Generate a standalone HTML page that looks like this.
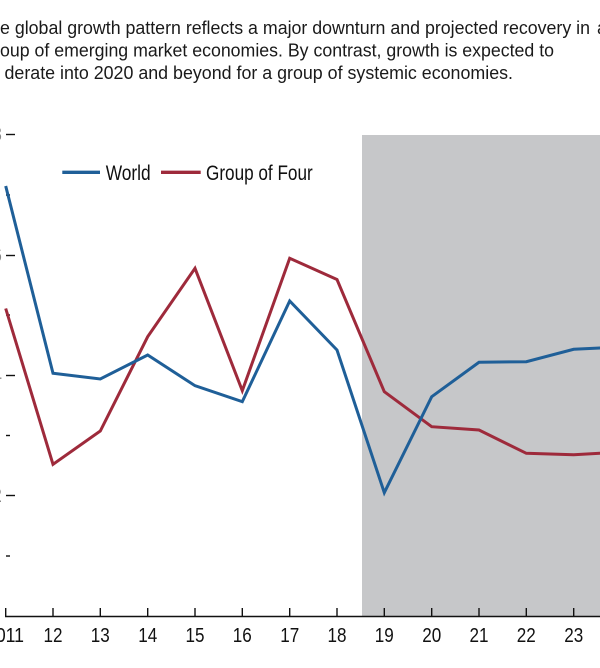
<!DOCTYPE html>
<html>
<head>
<meta charset="utf-8">
<style>
  html, body { margin: 0; padding: 0; background: #ffffff; }
  body { width: 600px; height: 668px; overflow: hidden; }
  svg { display: block; }
  text { font-family: "Liberation Sans", Arial, sans-serif; }
</style>
</head>
<body>
<svg width="600" height="668" viewBox="0 0 600 668" xmlns="http://www.w3.org/2000/svg">
  <rect x="0" y="0" width="600" height="668" fill="#ffffff"/>

  <!-- Title text (left-clipped in reference) -->
  <g fill="#1a1a1a" font-size="18">
    <text x="0" y="34" textLength="590" lengthAdjust="spacingAndGlyphs">e global growth pattern reflects a major downturn and projected recovery in</text>
    <text x="597" y="34">a</text>
    <text x="0" y="56.5" textLength="554" lengthAdjust="spacingAndGlyphs">oup of emerging market economies. By contrast, growth is expected to</text>
    <text x="4.5" y="79" textLength="508.5" lengthAdjust="spacingAndGlyphs">derate into 2020 and beyond for a group of systemic economies.</text>
  </g>

  <!-- Projection shading -->
  <rect x="362" y="135" width="238" height="481" fill="#c6c7c9"/>

  <!-- Y-axis ticks -->
  <g stroke="#111" stroke-width="1.4">
    <line x1="6" y1="134.5" x2="15" y2="134.5"/>
    <line x1="6" y1="195" x2="10" y2="195"/>
    <line x1="6" y1="255.5" x2="15" y2="255.5"/>
    <line x1="6" y1="315" x2="10" y2="315"/>
    <line x1="6" y1="375.5" x2="15" y2="375.5"/>
    <line x1="6" y1="435.5" x2="10" y2="435.5"/>
    <line x1="6" y1="495.5" x2="15" y2="495.5"/>
    <line x1="6" y1="556" x2="10" y2="556"/>
  </g>
  <!-- Y-axis label slivers -->
  <g fill="#888" font-size="20" text-anchor="end">
    <text x="2" y="141">8</text>
    <text x="2" y="262">6</text>
    <text x="2" y="382">4</text>
    <text x="2" y="502">2</text>
  </g>

  <!-- X axis -->
  <line x1="5" y1="616.5" x2="600" y2="616.5" stroke="#111" stroke-width="1.6"/>
  <g stroke="#111" stroke-width="1.4">
    <line x1="5.7" y1="608" x2="5.7" y2="616"/>
    <line x1="53" y1="608" x2="53" y2="616"/>
    <line x1="100.3" y1="608" x2="100.3" y2="616"/>
    <line x1="147.7" y1="608" x2="147.7" y2="616"/>
    <line x1="195" y1="608" x2="195" y2="616"/>
    <line x1="242.3" y1="608" x2="242.3" y2="616"/>
    <line x1="289.7" y1="608" x2="289.7" y2="616"/>
    <line x1="337" y1="608" x2="337" y2="616"/>
    <line x1="384.3" y1="608" x2="384.3" y2="616"/>
    <line x1="431.7" y1="608" x2="431.7" y2="616"/>
    <line x1="479" y1="608" x2="479" y2="616"/>
    <line x1="526.3" y1="608" x2="526.3" y2="616"/>
    <line x1="573.7" y1="608" x2="573.7" y2="616"/>
  </g>
  <g fill="#111" font-size="20" text-anchor="middle">
    <text x="5" y="642" textLength="38" lengthAdjust="spacingAndGlyphs">2011</text>
    <text x="53" y="642" textLength="19" lengthAdjust="spacingAndGlyphs">12</text>
    <text x="100.3" y="642" textLength="19" lengthAdjust="spacingAndGlyphs">13</text>
    <text x="147.7" y="642" textLength="19" lengthAdjust="spacingAndGlyphs">14</text>
    <text x="195" y="642" textLength="19" lengthAdjust="spacingAndGlyphs">15</text>
    <text x="242.3" y="642" textLength="19" lengthAdjust="spacingAndGlyphs">16</text>
    <text x="289.7" y="642" textLength="19" lengthAdjust="spacingAndGlyphs">17</text>
    <text x="337" y="642" textLength="19" lengthAdjust="spacingAndGlyphs">18</text>
    <text x="384.3" y="642" textLength="19" lengthAdjust="spacingAndGlyphs">19</text>
    <text x="431.7" y="642" textLength="19" lengthAdjust="spacingAndGlyphs">20</text>
    <text x="479" y="642" textLength="19" lengthAdjust="spacingAndGlyphs">21</text>
    <text x="526.3" y="642" textLength="19" lengthAdjust="spacingAndGlyphs">22</text>
    <text x="573.7" y="642" textLength="19" lengthAdjust="spacingAndGlyphs">23</text>
  </g>

  <!-- Series: Group of Four -->
  <polyline fill="none" stroke="#9e2a3b" stroke-width="3" stroke-linejoin="miter"
    points="5.7,308.5 53,464.3 100.3,431 147.7,336.7 195,268.3 242.3,390.7 289.7,258.3 337,279.5 384.3,391.7 431.7,426.7 479,430 526.3,453.3 573.7,454.7 621,452"/>
  <!-- Series: World -->
  <polyline fill="none" stroke="#1f5f98" stroke-width="3" stroke-linejoin="miter"
    points="5.7,186 53,373.3 100.3,379 147.7,355 195,385.7 242.3,401.7 289.7,301 337,350 384.3,492.7 431.7,396.7 479,362.3 526.3,361.7 573.7,349.3 621,347"/>

  <!-- Legend -->
  <line x1="62.3" y1="172.3" x2="100" y2="172.3" stroke="#1f5f98" stroke-width="3.4"/>
  <text x="105.7" y="180" font-size="21" fill="#111" textLength="45" lengthAdjust="spacingAndGlyphs">World</text>
  <line x1="161" y1="172.3" x2="200.7" y2="172.3" stroke="#9e2a3b" stroke-width="3.4"/>
  <text x="206" y="180" font-size="21" fill="#111" textLength="106.7" lengthAdjust="spacingAndGlyphs">Group of Four</text>
</svg>
</body>
</html>
